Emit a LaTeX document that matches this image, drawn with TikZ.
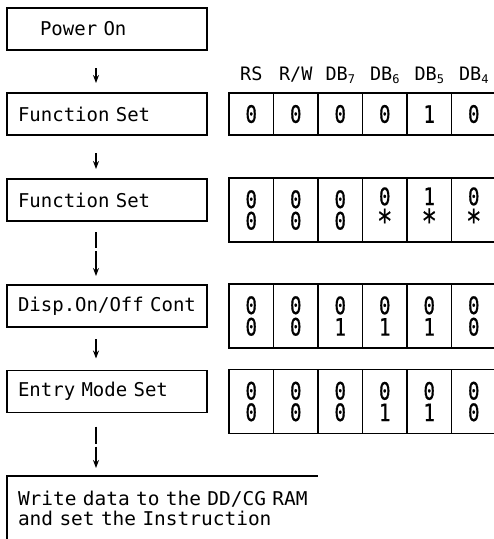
\documentclass[tikz,border=0pt]{standalone}
\usepackage{fontspec}
\usepackage{tikz}
\usetikzlibrary{positioning,arrows.meta}
\newfontfamily\lcdfont{DejaVu Sans Mono}[WordSpace={1,0,0}]
\newfontfamily\wideFont{DejaVu Sans Mono}[FakeStretch=1.025, WordSpace={1,0,0}]
\newfontfamily\bitfont{DejaVu Sans Mono}[FakeStretch=0.8, FakeBold=0.5]
\newcommand{\dbidx}[1]{\raisebox{-3pt}{\fontsize{12}{12}\selectfont #1}}
\newcommand{\anybit}{\raisebox{-6pt}{\scalebox{1.35}{*}}}

\begin{document}
\begin{tikzpicture}
[
x=1pt, y=-1pt,
box-a/.style={draw, rectangle, line width=1.6pt, outer sep=0pt, minimum width=200pt, minimum height=42pt, text width=178pt, inner xsep=11pt, align=left, font=\lcdfont\fontsize{19}{20.5}\selectfont},
cell-a/.style={draw, rectangle, line width=1.6pt, outer sep=0pt, minimum width=44.5pt, minimum height=42pt, inner sep=0pt, align=center, font=\bitfont\fontsize{24}{21.5}\selectfont},
cell-b/.style={cell-a, minimum height=64pt},
head-a/.style={inner sep=0pt, font=\lcdfont\fontsize{18.5}{19}\selectfont},
flow-a/.style={line width=1.6pt, -{Stealth[length=8pt, width=6pt]}}
]
\useasboundingbox (0,0) rectangle (494,539);
\clip (0,0) rectangle (494,539);

% flow boxes
\node (power)    [box-a] at (107,29)    {\hspace*{22pt}Power On};
\node (func-1)   [box-a] at (107,114)   {Function Set};
\node (func-2)   [box-a] at (107,200)   {Function Set};
\node (disp)     [box-a] at (107,306)   {Disp.On/Off Cont};
\node (entry)    [box-a] at (107,391.5) {Entry Mode Set};
\node (write)    [box-a, draw=none, minimum height=0pt, text width=300pt, inner ysep=15pt, anchor=north west, font=\wideFont\fontsize{19}{20.5}\selectfont] at (7,476)
                 {Write data to the DD/CG RAM\\and set the Instruction};
\draw [line width=1.6pt] (write.south west) -- (write.north west) -- ([xshift=-11pt]write.north east);

% flow arrows
\draw [flow-a, shorten <=18pt, shorten >=10pt] ([xshift=-11pt]power.south)  -- ([xshift=-11pt]func-1.north);
\draw [flow-a, shorten <=18pt, shorten >=10pt] ([xshift=-11pt]func-1.south) -- ([xshift=-11pt]func-2.north);
\draw [flow-a, shorten <=11pt, shorten >=9pt, dash pattern=on 16pt off 3pt on 60pt] ([xshift=-11pt]func-2.south) -- ([xshift=-11pt]disp.north);
\draw [flow-a, shorten <=12pt, shorten >=12pt] ([xshift=-11pt]disp.south)   -- ([xshift=-11pt]entry.north);
\draw [flow-a, shorten <=14pt, shorten >=8pt, dash pattern=on 17pt off 3pt on 60pt] ([xshift=-11pt]entry.south) -- ([xshift=-11pt]entry.south |- write.north);

% row 1
\node (r1-c1) [cell-a] at (251.25,114)              {0};
\node (r1-c2) [cell-a, right = 0pt of r1-c1]        {0};
\node (r1-c3) [cell-a, right = 0pt of r1-c2]        {0};
\node (r1-c4) [cell-a, right = 0pt of r1-c3]        {0};
\node (r1-c5) [cell-a, right = 0pt of r1-c4]        {1};
\node (r1-c6) [cell-a, right = 0pt of r1-c5]        {0};

% header
\node (head-rs)  [head-a, above = 13pt of r1-c1.north, anchor=base] {RS};
\node (head-rw)  [head-a, above = 13pt of r1-c2.north, anchor=base] {R/W};
\node (head-db7) [head-a, above = 13pt of r1-c3.north, anchor=base] {DB\dbidx{7}};
\node (head-db6) [head-a, above = 13pt of r1-c4.north, anchor=base] {DB\dbidx{6}};
\node (head-db5) [head-a, above = 13pt of r1-c5.north, anchor=base] {DB\dbidx{5}};
\node (head-db4) [head-a, above = 13pt of r1-c6.north, anchor=base] {DB\dbidx{4}};

% row 2
\node (r2-c1) [cell-b] at (251.25,210)              {0\\0};
\node (r2-c2) [cell-b, right = 0pt of r2-c1]        {0\\0};
\node (r2-c3) [cell-b, right = 0pt of r2-c2]        {0\\0};
\node (r2-c4) [cell-b, right = 0pt of r2-c3]        {0\\\anybit};
\node (r2-c5) [cell-b, right = 0pt of r2-c4]        {1\\\anybit};
\node (r2-c6) [cell-b, right = 0pt of r2-c5]        {0\\\anybit};

% row 3
\node (r3-c1) [cell-b] at (251.25,316)              {0\\0};
\node (r3-c2) [cell-b, right = 0pt of r3-c1]        {0\\0};
\node (r3-c3) [cell-b, right = 0pt of r3-c2]        {0\\1};
\node (r3-c4) [cell-b, right = 0pt of r3-c3]        {0\\1};
\node (r3-c5) [cell-b, right = 0pt of r3-c4]        {0\\1};
\node (r3-c6) [cell-b, right = 0pt of r3-c5]        {0\\0};

% row 4
\node (r4-c1) [cell-b] at (251.25,401.5)            {0\\0};
\node (r4-c2) [cell-b, right = 0pt of r4-c1]        {0\\0};
\node (r4-c3) [cell-b, right = 0pt of r4-c2]        {0\\0};
\node (r4-c4) [cell-b, right = 0pt of r4-c3]        {0\\1};
\node (r4-c5) [cell-b, right = 0pt of r4-c4]        {0\\1};
\node (r4-c6) [cell-b, right = 0pt of r4-c5]        {0\\0};
\end{tikzpicture}
\end{document}
